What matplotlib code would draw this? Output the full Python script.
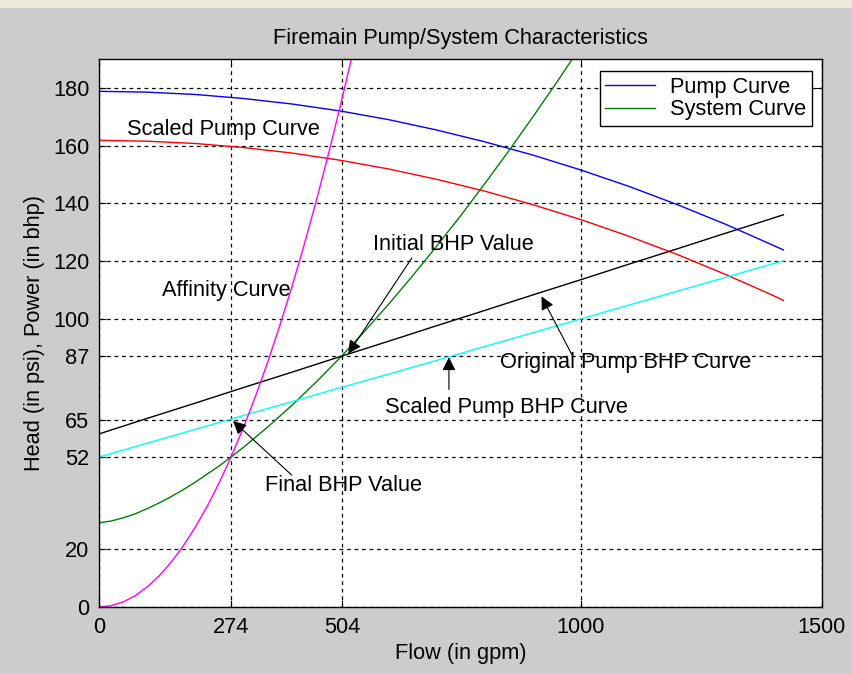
import numpy as np
import matplotlib.pyplot as plt
from matplotlib.patches import Rectangle

# -----------------------------
# Data
# -----------------------------
flow = [0, 100, 200, 300, 400, 500, 600, 700, 800, 900,
        1000, 1100, 1200, 1300, 1400, 1420]

pump_head = [178.8, 178.5, 177.7, 176.3, 174.4, 172.0, 169.0, 165.4,
             161.3, 156.7, 151.5, 145.8, 139.5, 132.7, 125.3, 123.8]

scaled_pump_head = [161.8, 161.5, 160.7, 159.3, 157.4, 154.9, 151.9, 148.3,
                    144.2, 139.5, 134.3, 128.5, 122.2, 115.3, 107.9, 106.3]

orig_bhp = [60.0, 65.4, 70.7, 76.1, 81.4, 86.8, 92.1, 97.5,
            102.8, 108.2, 113.5, 118.9, 124.2, 129.6, 134.9, 136.0]

scaled_bhp = [52.0, 56.8, 61.6, 66.4, 71.2, 76.0, 80.7, 85.5,
              90.3, 95.1, 99.9, 104.7, 109.5, 114.3, 119.1, 120.0]

system_flow = [0, 25, 50, 75, 100, 125, 150, 175, 200, 250, 274, 300, 350,
               400, 450, 500, 550, 600, 650, 700, 750, 800, 850, 900, 950,
               1000]
system_head = [29.2, 29.8, 30.9, 32.3, 34.1, 36.1, 38.3, 40.7, 43.3, 49.0,
               52.0, 55.4, 62.4, 69.9, 77.9, 86.4, 95.4, 104.8, 114.7, 125.0,
               135.6, 146.7, 158.1, 169.9, 182.0, 194.5]

affinity_flow = [0, 25, 50, 75, 100, 125, 150, 175, 200, 225, 250, 274,
                 300, 325, 350, 375, 400, 425, 450, 475, 500, 525]
affinity_head = [0.0, 0.43, 1.73, 3.90, 6.93, 10.83, 15.59, 21.22, 27.72,
                 35.08, 43.31, 52.0, 62.37, 73.2, 84.9, 97.5, 110.9, 125.2,
                 140.3, 156.4, 173.3, 191.0]

x_ticks = [0, 274, 504, 1000, 1500]
y_ticks = [0, 20, 52, 65, 87, 100, 120, 140, 160, 180]

# -----------------------------
# Figure
# -----------------------------
plt.rcParams["font.family"] = ["Liberation Sans", "DejaVu Sans"]
fs = 15.7

fig = plt.figure(figsize=(8.53, 6.74), dpi=100, facecolor="#cccccc")
fig.patches.append(Rectangle((0, 1 - 8 / 674), 1, 8 / 674,
                             transform=fig.transFigure,
                             facecolor="#ece9d8", edgecolor="none"))

ax = fig.add_axes([99 / 853, 1 - 607 / 674, 723 / 853, 548 / 674])
ax.set_facecolor("white")

ax.plot(flow, pump_head, color="#0000ff", lw=1.0, label="Pump Curve")
ax.plot(system_flow, system_head, color="#008000", lw=1.0, label="System Curve")
ax.plot(flow, scaled_pump_head, color="#ff0000", lw=1.0)
ax.plot(flow, orig_bhp, color="black", lw=1.0)
ax.plot(flow, scaled_bhp, color="#00ffff", lw=1.0)
ax.plot(affinity_flow, affinity_head, color="#ff00ff", lw=1.0)

ax.set_xlim(0, 1500)
ax.set_ylim(0, 190)
ax.set_xticks(x_ticks)
ax.set_yticks(y_ticks)
ax.tick_params(direction="in", length=5, top=True, right=True,
               labelsize=fs, pad=7, colors="black")
for s in ax.spines.values():
    s.set_linewidth(1.0)
ax.grid(True, color="black", linestyle=(0, (3, 3)), linewidth=0.9)

ax.set_title("Firemain Pump/System Characteristics", fontsize=fs, pad=10.5)
ax.set_xlabel("Flow (in gpm)", fontsize=fs, labelpad=4)
ax.set_ylabel("Head (in psi), Power (in bhp)", fontsize=fs, labelpad=6)

# -----------------------------
# Annotations
# -----------------------------
ax.text(58, 165.4, "Scaled Pump Curve", fontsize=fs, va="center")
ax.text(131, 109.7, "Affinity Curve", fontsize=fs, va="center")

arrow = dict(arrowstyle="-|>", color="black", lw=0.8,
             mutation_scale=20, shrinkA=0, shrinkB=0)
ax.annotate("", xy=(517, 87.8), xytext=(649, 121.0), arrowprops=arrow)
ax.text(568, 125.6, "Initial BHP Value", fontsize=fs, va="center")

ax.annotate("", xy=(918, 107.7), xytext=(981, 87.5), arrowprops=arrow)
ax.text(832, 84.8, "Original Pump BHP Curve", fontsize=fs, va="center")

ax.annotate("", xy=(726, 86.6), xytext=(726, 75.4), arrowprops=arrow)
ax.text(593, 69.2, "Scaled Pump BHP Curve", fontsize=fs, va="center")

ax.annotate("", xy=(278, 64.5), xytext=(400, 45.7), arrowprops=arrow)
ax.text(344, 42.2, "Final BHP Value", fontsize=fs, va="center")

leg = ax.legend(loc="upper right", bbox_to_anchor=(0.9862, 0.978),
                borderaxespad=0, fontsize=fs, fancybox=False,
                framealpha=1, edgecolor="black", handlelength=2.3,
                handletextpad=0.69, borderpad=0.25, labelspacing=0.08)
leg.get_frame().set_linewidth(1.0)

fig.savefig("out.png", dpi=100, facecolor=fig.get_facecolor())
